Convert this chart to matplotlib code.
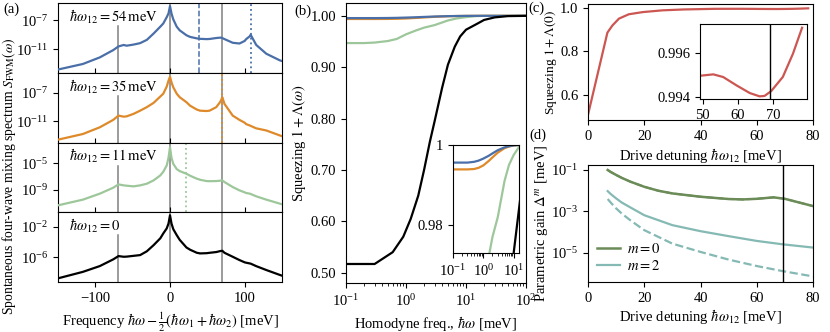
import numpy as np
import matplotlib
matplotlib.use("Agg")
import matplotlib.pyplot as plt
from matplotlib.ticker import NullLocator, FixedLocator

plt.rcParams['font.family'] = 'serif'
plt.rcParams['font.serif'] = ['Liberation Serif', 'DejaVu Serif']
plt.rcParams['mathtext.fontset'] = 'stix'
plt.rcParams['font.size'] = 10.5

# ---------------- data (a): FWM spectra, log10 values ----------------
freq = [-150, -116.7, -94, -76, -69, -62, -58, -49, -40, -31, -22, -13, -9, -4.4, -2, 0,
        2, 4.4, 9, 13, 22, 27, 36, 39, 40, 49, 53, 62, 67, 69, 70, 73, 84, 93, 100,
        102, 107, 108, 115.5, 129, 147, 150]

drives = [54, 35, 11, 0]
spec54 = [-13.76, -13.0, -12.1, -11.1, -10.6, -10.4, -10.5, -10.35, -10.15, -9.7, -8.84, -7.9, -7.46, -6.6, -6.08, -5.07,
          -6.1, -6.9, -7.9, -8.4, -9.07, -9.3, -9.5, -9.55, -9.56, -9.6, -9.58, -9.45, -9.4, -9.4, -9.45, -9.6, -10.1, -10.2, -9.85,
          -9.6, -9.2, -9.0, -10.4, -11.6, -12.5, -12.6]
spec35 = [-13.6, -12.8, -11.85, -10.8, -10.2, -10.35, -10.3, -9.96, -9.5, -9.0, -8.4, -7.5, -7.1, -6.1, -5.26, -4.7,
          -5.5, -6.2, -7.1, -7.6, -8.3, -8.8, -9.35, -9.45, -9.5, -9.55, -9.5, -9.0, -8.3, -7.9, -7.6, -8.55, -10.2, -10.8, -11.2,
          -11.4, -11.6, -11.65, -12.0, -12.3, -13.0, -13.1]
spec11 = [-11.36, -10.5, -9.6, -8.7, -8.2, -8.35, -8.4, -8.5, -8.35, -8.1, -7.6, -6.85, -6.3, -5.35, -4.2, -2.6,
          -4.2, -5.1, -5.9, -6.2, -6.6, -6.9, -7.35, -7.45, -7.5, -7.7, -7.72, -7.7, -7.65, -7.6, -7.6, -7.85, -8.6, -9.1, -9.4,
          -9.5, -9.6, -9.65, -10.0, -10.5, -11.1, -11.2]
spec0 = [-8.75, -7.9, -7.14, -6.26, -5.83, -5.92, -5.9, -5.8, -5.7, -5.2, -4.4, -3.5, -2.86, -2.2, -1.56, -0.47,
         -1.56, -2.3, -3.08, -3.7, -4.7, -5.0, -5.4, -5.45, -5.48, -5.45, -5.4, -5.3, -5.18, -5.15, -5.13, -5.4, -5.92, -6.35, -6.65,
         -6.7, -6.8, -6.82, -7.15, -7.66, -8.3, -8.4]
spectra = [spec54, spec35, spec11, spec0]
ylims_a = [(-14.2, -4.66), (-14.0, -4.14), (-12.4, -1.89), (-9.23, -0.08)]
yticks_a = [(-11, -7), (-11, -7), (-9, -5), (-6, -2)]
dotted_lines = [[108], [69.5], [22], []]
dashed_lines = [[39], [], [], []]
resonances = [-69, 0, 69]

# ---------------- data (b): squeezing vs homodyne frequency ----------------
hw = [0.1, 0.2, 0.3, 0.5, 0.7, 1, 1.5, 2, 3, 5, 7, 10, 15, 20, 30, 50, 100]
sq54 = [0.9956, 0.9956, 0.9956, 0.9958, 0.9961, 0.9966, 0.9973, 0.9979, 0.9987, 0.9994, 0.9997, 0.9999,
        1.0, 1.0, 1.0, 1.0, 1.0]
sq35 = [0.9939, 0.9939, 0.9939, 0.9940, 0.9943, 0.9949, 0.9960, 0.9969, 0.9981, 0.9992, 0.9996, 0.9999,
        1.0, 1.0, 1.0, 1.0, 1.0]
sq11 = [0.947, 0.947, 0.948, 0.951, 0.955, 0.964, 0.972, 0.977, 0.982, 0.991, 0.995, 0.9975,
        0.9995, 1.0, 1.0, 1.0, 1.0]
hw0 = [0.1, 0.3, 0.6, 0.9, 1.2, 1.6, 2.0, 2.5, 3.0, 4.0, 5.0, 6.5, 8.0, 10, 15, 20, 30, 50, 100]
sq0 = [0.517, 0.517, 0.54, 0.57, 0.605, 0.65, 0.70, 0.755, 0.795, 0.86, 0.905, 0.94, 0.96, 0.973,
       0.984, 0.992, 0.997, 0.9995, 1.0]

# ---------------- data (c): squeezing at zero frequency ----------------
detuning_c = [0, 6.9, 8.7, 11, 14.5, 19.5, 26.5, 34, 45, 50, 53, 55.8, 59.6, 63.4, 66.2, 67.6, 69.5,
              72.8, 75.7, 78.3]
sq_zero = [0.51, 0.886, 0.919, 0.95, 0.97, 0.98, 0.988, 0.992, 0.9949, 0.99498, 0.99503, 0.99491,
           0.99453, 0.99418, 0.99403, 0.99405, 0.99427, 0.99491, 0.99597, 0.99715]
phonon_line = 69.2

# ---------------- data (d): parametric gain, log10 values ----------------
det_m0 = [7, 8, 10, 12, 15, 20, 25, 30, 40, 50, 55, 60, 66, 70, 74, 80]
gain_m0 = [-1.0, -1.09, -1.24, -1.38, -1.56, -1.81, -2.0, -2.13, -2.29, -2.40, -2.42, -2.39, -2.32,
           -2.39, -2.53, -2.74]
det_m2 = [7, 8, 10, 12, 15, 20, 30, 40, 50, 60, 69, 80]
gain_m2 = [-2.02, -2.15, -2.37, -2.57, -2.8, -3.18, -3.66, -3.95, -4.19, -4.42, -4.58, -4.74]
gain_m2_dash = [-2.40, -2.56, -2.85, -3.1, -3.42, -3.9, -4.55, -4.95, -5.32, -5.63, -5.87, -6.13]

colors = ['#4a6fa8', '#de8a2a', '#9dc79a', 'black']
red = '#cc5652'
green_dark = '#6b8c58'
teal = '#85b9b4'
gray = '#808080'

W, H = 830, 332


def box(x0, y0, x1, y1):
    """pixel box (top-left, bottom-right) -> figure fraction rect"""
    return [x0 / W, 1 - y1 / H, (x1 - x0) / W, (y1 - y0) / H]


fig = plt.figure(figsize=(W / 100, H / 100), dpi=100)

# ---- panel (a) ----
x_a = np.array(freq)
h_a = (282 - 3) / 4
axes_a = []
for i in range(4):
    top = 3 + i * h_a
    ax = fig.add_axes(box(58, top, 282, top + h_a))
    axes_a.append(ax)
    ax.set_yscale('log')
    for r in resonances:
        if r < 0:
            ax.axvline(r, ymax=0.67, color=gray, lw=1.1, zorder=1)
        else:
            ax.axvline(r, color=gray, lw=1.1, zorder=1)
    for d in dotted_lines[i]:
        ax.axvline(d, color=colors[i], ls=':', lw=1.3, zorder=2)
    for d in dashed_lines[i]:
        ax.axvline(d, color=colors[i], ls='--', lw=1.1, zorder=2)
    ax.plot(x_a, 10.0 ** np.array(spectra[i]), color=colors[i], lw=1.6, zorder=3)
    ax.set_xlim(-150, 150)
    lo, hi = ylims_a[i]
    ax.set_ylim(10 ** lo, 10 ** hi)
    ax.yaxis.set_major_locator(FixedLocator([10.0 ** e for e in yticks_a[i]]))
    ax.yaxis.set_minor_locator(NullLocator())
    ax.set_xticks([-100, 0, 100])
    if drives[i] > 0:
        lab = r'$\hbar\omega_{12} = %d\,\mathrm{meV}$' % drives[i]
    else:
        lab = r'$\hbar\omega_{12} = 0$'
    ax.text(0.05, 0.93, lab, transform=ax.transAxes, va='top', ha='left')
    if i < 3:
        ax.tick_params(axis='x', direction='in', labelbottom=False)
axes_a[-1].set_xlabel(r'Frequency $\hbar\omega - \frac{1}{2}(\hbar\omega_1 + \hbar\omega_2)$ [meV]')
fig.text(9 / W, 1 - 176 / H, r'Spontaneous four-wave mixing spectrum $S_\mathrm{FWM}(\omega)$',
         rotation=90, va='center', ha='center', fontsize=9.8)

# ---- panel (b) ----
axb = fig.add_axes(box(346, 3, 526, 283))
for vals, c in zip([sq11, sq35, sq54], [colors[2], colors[1], colors[0]]):
    axb.plot(hw, vals, color=c, lw=1.6)
axb.plot(hw0, sq0, color='black', lw=1.6)
axb.set_xscale('log')
axb.set_xlim(0.1, 100)
axb.set_ylim(0.48, 1.025)
axb.set_yticks([0.5, 0.6, 0.7, 0.8, 0.9, 1.0])
axb.set_yticklabels(['0.50', '0.60', '0.70', '0.80', '0.90', '1.00'])
axb.set_xlabel(r'Homodyne freq., $\hbar\omega$ [meV]')
axb.set_ylabel(r'Squeezing $1+\Lambda(\omega)$', labelpad=2)

axbi = fig.add_axes(box(453, 145, 519, 253))
for vals, c in zip([sq11, sq35, sq54], [colors[2], colors[1], colors[0]]):
    axbi.plot(hw, vals, color=c, lw=1.6)
axbi.plot(hw0, sq0, color='black', lw=1.6)
axbi.set_xscale('log')
axbi.set_xlim(0.1, 15)
axbi.set_ylim(0.973, 1.0)
axbi.set_yticks([0.98, 1.0])
axbi.set_yticklabels(['0.98', '1'])
axbi.xaxis.set_major_locator(FixedLocator([0.1, 1, 10]))

# ---- panel (c) ----
axc = fig.add_axes(box(588, 4, 813, 120))
axc.plot(detuning_c, sq_zero, color=red, lw=1.6)
axc.set_xlim(0, 80)
axc.set_ylim(0.486, 1.017)
axc.set_xticks([0, 20, 40, 60, 80])
axc.set_yticks([0.6, 0.8, 1.0])
axc.set_xlabel(r'Drive detuning $\hbar\omega_{12}$ [meV]', labelpad=2)
axc.set_ylabel(r'Squeezing $1+\Lambda(0)$', fontsize=9.6)
axc.yaxis.set_label_coords(-0.128, 0.5)

axci = fig.add_axes(box(700, 24, 807, 99))
axci.plot(detuning_c, sq_zero, color=red, lw=1.6)
axci.axvline(phonon_line, color='black', lw=1.0)
axci.set_xlim(49.2, 79.7)
axci.set_ylim(0.99391, 0.99732)
axci.set_xticks([50, 60, 70])
axci.set_yticks([0.994, 0.996])
axci.set_yticklabels(['0.994', '0.996'])

# ---- panel (d) ----
axd = fig.add_axes(box(588, 165, 813, 282))
axd.plot(det_m0, 10.0 ** np.array(gain_m0), color=green_dark, lw=1.8, label=r'$m = 0$')
axd.plot(det_m0, 10.0 ** np.array(gain_m0), color=green_dark, lw=1.4, ls='--')
axd.plot(det_m2, 10.0 ** np.array(gain_m2), color=teal, lw=1.6, label=r'$m = 2$')
axd.plot(det_m2, 10.0 ** np.array(gain_m2_dash), color=teal, lw=1.6, ls='--')
axd.axvline(phonon_line, color='black', lw=1.0)
axd.set_yscale('log')
axd.set_xlim(0, 80)
axd.set_ylim(10 ** -6.4, 10 ** -0.76)
axd.yaxis.set_major_locator(FixedLocator([1e-5, 1e-3, 1e-1]))
axd.yaxis.set_minor_locator(NullLocator())
axd.set_xticks([0, 20, 40, 60, 80])
axd.set_xlabel(r'Drive detuning $\hbar\omega_{12}$ [meV]', labelpad=2)
axd.set_ylabel(r'Parametric gain $\Delta^m$ [meV]', labelpad=0)
axd.legend(loc='lower left', frameon=False, handlelength=1.6, borderaxespad=0.2,
           labelspacing=0.2, handletextpad=0.5)

# panel letters
fig.text(3 / W, 1 - 3 / H, '(a)', va='top', ha='left')
fig.text(294 / W, 1 - 5 / H, '(b)', va='top', ha='left')
fig.text(528 / W, 1 - 2 / H, '(c)', va='top', ha='left')
fig.text(529 / W, 1 - 129 / H, '(d)', va='top', ha='left')

fig.savefig('out.png', dpi=100)
